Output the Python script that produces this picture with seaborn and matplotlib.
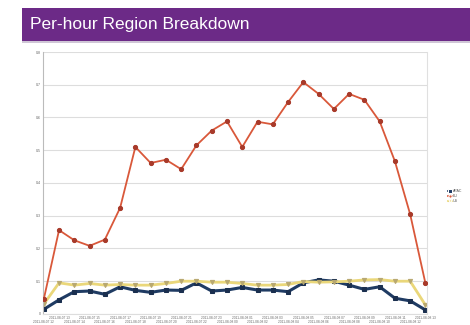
import matplotlib
matplotlib.use("Agg")
import matplotlib.pyplot as plt
import seaborn as sns
import pandas as pd
from matplotlib.patches import Rectangle

# ---- data ----
hours = ["2011-08-07 %02d" % h for h in range(12, 24)] + \
        ["2011-08-08 %02d" % h for h in range(0, 14)]
apac = [0.014, 0.043, 0.068, 0.070, 0.060, 0.083, 0.072, 0.066, 0.073, 0.072, 0.095, 0.070, 0.073,
        0.081, 0.073, 0.073, 0.068, 0.095, 0.104, 0.100, 0.088, 0.075, 0.083, 0.048, 0.040, 0.012]
eu = [0.045, 0.256, 0.225, 0.208, 0.227, 0.324, 0.510, 0.461, 0.471, 0.442, 0.515, 0.560, 0.588,
      0.510, 0.587, 0.579, 0.647, 0.708, 0.672, 0.626, 0.672, 0.654, 0.588, 0.466, 0.304, 0.093]
us = [0.030, 0.095, 0.088, 0.093, 0.088, 0.090, 0.088, 0.088, 0.093, 0.100, 0.100, 0.097, 0.097,
      0.093, 0.088, 0.088, 0.090, 0.099, 0.097, 0.098, 0.100, 0.104, 0.105, 0.100, 0.100, 0.027]
regions = ["APAC", "EU", "US"]
yticks = [0, 0.1, 0.2, 0.3, 0.4, 0.5, 0.6, 0.7, 0.8]
ytick_labels = ["0", "0.1", "0.2", "0.3", "0.4", "0.5", "0.6", "0.7", "0.8"]

idx = list(range(len(hours)))
df = pd.concat([
    pd.DataFrame({"x": idx, "value": apac, "region": "APAC"}),
    pd.DataFrame({"x": idx, "value": eu, "region": "EU"}),
    pd.DataFrame({"x": idx, "value": us, "region": "US"}),
])

sns.set_style("white")
plt.rcParams["font.family"] = ["Liberation Sans", "DejaVu Sans"]

fig = plt.figure(figsize=(4.7, 3.25), dpi=100)
fig.patch.set_facecolor("white")

# title bar
fig.patches.append(Rectangle((0.047, 0.868), 0.953, 0.010, transform=fig.transFigure,
                             facecolor="#cfc6d6", edgecolor="none"))
fig.patches.append(Rectangle((0.047, 0.875), 0.953, 0.100, transform=fig.transFigure,
                             facecolor="#6c2a87", edgecolor="none"))
fig.text(0.064, 0.924, "Per-hour Region Breakdown", color="white", fontsize=12.5,
         va="center", ha="left")

ax = fig.add_axes([0.0915, 0.034, 0.817, 0.806])
palette = {"APAC": "#1f3b63", "EU": "#d9583a", "US": "#ead77a"}
sns.lineplot(data=df, x="x", y="value", hue="region", hue_order=regions, palette=palette,
             style="region", markers={"APAC": "s", "EU": "o", "US": "v"},
             dashes=False, markersize=3, ax=ax, legend=True)
lw = {"APAC": 2.2, "EU": 1.3, "US": 2.0}
mfc = {"APAC": "#1a2f4f", "EU": "#a83a2a", "US": "#b8a870"}
for line, r in zip(ax.lines[:3], regions):
    line.set_linewidth(lw[r])
    line.set_markerfacecolor(mfc[r])
    line.set_markeredgecolor(mfc[r])
ax.lines[1].set_zorder(4)

ax.set_xlim(-0.05, 25.1)
ax.set_ylim(0, 0.8)
ax.set_yticks(yticks)
ax.set_yticklabels(ytick_labels, fontsize=2.6, color="#666666")

even = [i for i in idx if i % 2 == 0]
odd = [i for i in idx if i % 2 == 1]
ax.set_xticks(odd)
ax.set_xticklabels([hours[i] for i in odd], fontsize=2.3, color="#666666")
ax.set_xticks(even, minor=True)
ax.set_xticklabels([hours[i] for i in even], minor=True, fontsize=2.3, color="#666666")
ax.tick_params(axis="both", which="both", length=0)
ax.tick_params(axis="x", which="major", pad=1.2)
ax.tick_params(axis="x", which="minor", pad=4.4)
ax.tick_params(axis="y", pad=1.5)
ax.yaxis.grid(True, color="#dddddd", linewidth=0.8)
ax.xaxis.grid(False, which="both")
ax.set_xlabel("")
ax.set_ylabel("")
ax.spines["top"].set_visible(False)
ax.spines["left"].set_color("#bbbbbb")
ax.spines["right"].set_color("#e0e0e0")
ax.spines["bottom"].set_color("#dddddd")
for s in ["left", "right", "bottom"]:
    ax.spines[s].set_linewidth(0.8)

leg = ax.legend(loc="center left", bbox_to_anchor=(1.045, 0.45), frameon=False,
                fontsize=2.6, handlelength=1.2, handletextpad=0.3, labelspacing=0.2,
                markerscale=0.8)
for t in leg.get_texts():
    t.set_color("#555555")

fig.savefig("out.png", dpi=100)
